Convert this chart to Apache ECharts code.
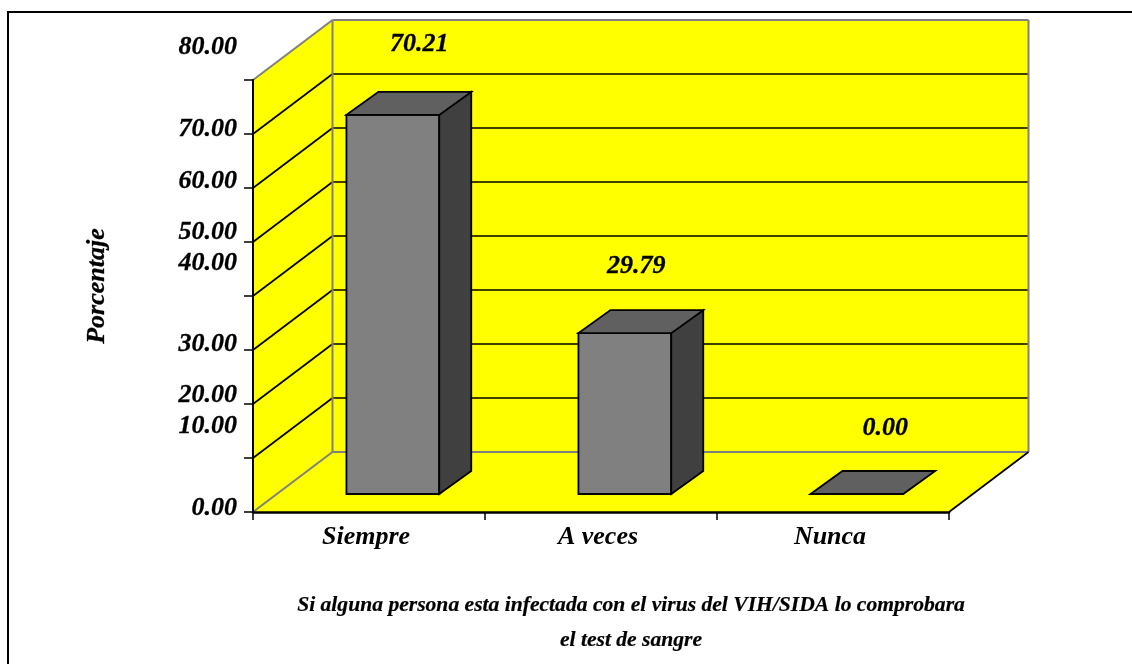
<!DOCTYPE html>
<html><head><meta charset="utf-8">
<style>html,body{margin:0;padding:0;background:#fff}#c{width:1132px;height:664px}</style>
<script src="https://cdn.jsdelivr.net/npm/echarts@6/dist/echarts.min.js"></script>
</head><body><div id="c"></div>
<script>
const categories = ['Siempre', 'A veces', 'Nunca'];
const values = [70.21, 29.79, 0.00];
const yTicks = [0, 10, 20, 30, 40, 50, 60, 70, 80];
const yTickLabelShift = [-4, -32, -9, -6, -33, -10, -7, -5, -33];
const valueLabelShift = [[26.5, -71], [11.5, -67], [28.5, -66]];
const yTitle = 'Porcentaje';
const xTitle = 'Si alguna persona esta infectada con el virus del VIH/SIDA lo comprobara\nel test de sangre';

const FONT = '"Liberation Serif","Times New Roman",serif';
const WALL_DX = 79.5, WALL_DY = -60;
const BAR_WIDTH = 0.4, BAR_FRONT = 0.3, BAR_DX = 32, BAR_DY = -23;
const txt = (x, y, s, size, align, va) => ({
  type: 'text', silent: true, z2: 20,
  style: { x, y, text: s, fill: '#000', stroke: '#000', lineWidth: 0.3, font: `italic bold ${size}px ${FONT}`, align: align, verticalAlign: va || 'middle' }
});
const line = (a, b, color, w) => ({
  type: 'line', silent: true,
  shape: { x1: a[0], y1: a[1], x2: b[0], y2: b[1] },
  style: { stroke: color, lineWidth: w }
});
const poly = (pts, fill, stroke, w) => ({
  type: 'polygon', silent: true,
  shape: { points: pts },
  style: { fill, stroke: stroke || 'none', lineWidth: w || 0, lineJoin: 'miter' }
});

function renderWalls(params, api) {
  const band = api.size([1, 0])[0];
  const left = api.coord([0, 0])[0] - band / 2;
  const right = left + band * categories.length;
  const y = v => api.coord([0, v])[1];
  const back = (x, v) => [x + WALL_DX, y(v) + WALL_DY];
  const els = [];
  els.push(poly([[left, y(0)], [right, y(0)], back(right, 0), back(left, 0)], '#ffff00'));
  els.push(poly([[left, y(0)], back(left, 0), back(left, 80), [left, y(80)]], '#ffff00'));
  els.push(poly([back(left, 0), back(right, 0), back(right, 80), back(left, 80)], '#ffff00'));
  yTicks.slice(1, -1).forEach(v => {
    els.push(line([left, y(v)], back(left, v), '#000', 1.7));
    els.push(line(back(left, v), back(right, v), '#000', 1.5));
  });
  const g = '#808080';
  els.push(line(back(left, 0), back(right, 0), g, 2));
  els.push(line(back(left, 0), back(left, 80), g, 2));
  els.push(line(back(left, 80), back(right, 80), g, 2));
  els.push(line(back(right, 0), back(right, 80), g, 2));
  els.push(line([left, y(80)], back(left, 80), g, 2));
  els.push(line([left, y(0)], back(left, 0), g, 2));
  els.push(line([right, y(0)], back(right, 0), '#000', 1.7));
  yTicks.forEach((v, i) => {
    els.push(txt(237, y(v) + yTickLabelShift[i], v.toFixed(2), 26, 'right'));
  });
  return { type: 'group', children: els };
}

function renderBar(params, api) {
  const i = api.value(0), v = api.value(1);
  const band = api.size([1, 0])[0];
  const c = api.coord([i, 0]);
  const top = api.coord([i, v])[1];
  const w = band * BAR_WIDTH;
  const x0 = c[0] - w / 2 + WALL_DX * BAR_FRONT;
  const x1 = x0 + w;
  const yb = c[1] + WALL_DY * BAR_FRONT;
  const yt = top + WALL_DY * BAR_FRONT;
  const k = '#000', lw = 1.8;
  const els = [];
  if (v > 0) {
    els.push(poly([[x0, yb], [x1, yb], [x1, yt], [x0, yt]], '#808080', k, lw));
    els.push(poly([[x1, yb], [x1 + BAR_DX, yb + BAR_DY], [x1 + BAR_DX, yt + BAR_DY], [x1, yt]], '#404040', k, lw));
  }
  els.push(poly([[x0, yt], [x1, yt], [x1 + BAR_DX, yt + BAR_DY], [x0 + BAR_DX, yt + BAR_DY]], '#606060', k, lw));
  const s = valueLabelShift[params.dataIndex];
  els.push(txt((x0 + x1) / 2 + s[0], yt + s[1], v.toFixed(2), 26, 'center'));
  return { type: 'group', children: els };
}

const chart = echarts.init(document.getElementById('c'), null, { renderer: 'canvas' });
chart.setOption({
  animation: false,
  backgroundColor: '#fff',
  grid: { left: 253, right: 183, top: 80, bottom: 152, containLabel: false },
  xAxis: {
    type: 'category', data: categories, boundaryGap: true, z: 10,
    axisLine: { show: true, onZero: false, lineStyle: { color: '#000', width: 2.5 } },
    axisTick: { show: true, alignWithLabel: false, length: 8, lineStyle: { color: '#000', width: 1.5 } },
    axisLabel: { show: true, margin: 12, interval: 0, color: '#000', fontFamily: FONT, fontStyle: 'italic', fontWeight: 'bold', fontSize: 26, padding: [0, 6, 0, 0] },
    splitLine: { show: false }
  },
  yAxis: {
    type: 'value', min: 0, max: 80, interval: 10, z: 10,
    axisLine: { show: true, lineStyle: { color: '#000', width: 2 } },
    axisTick: { show: true, length: 9, lineStyle: { color: '#000', width: 1.5 } },
    axisLabel: { show: false },
    splitLine: { show: false }
  },
  graphic: [
    { type: 'line', silent: true, shape: { x1: 8, y1: 664, x2: 8, y2: 12 }, style: { stroke: '#000', lineWidth: 2 } },
    { type: 'line', silent: true, shape: { x1: 7, y1: 12, x2: 1132, y2: 12 }, style: { stroke: '#000', lineWidth: 2 } },
    { type: 'text', silent: true, x: 97, y: 286, rotation: Math.PI / 2,
      style: { text: yTitle, fill: '#000', stroke: '#000', lineWidth: 0.3, font: `italic bold 26px ${FONT}`, align: 'center', verticalAlign: 'middle' } },
    { type: 'text', silent: true, x: 631, y: 623,
      style: { text: xTitle, fill: '#000', stroke: '#000', lineWidth: 0.2, font: `italic bold 21.6px ${FONT}`, align: 'center', verticalAlign: 'middle', lineHeight: 35 } }
  ],
  series: [
    { type: 'custom', coordinateSystem: 'cartesian2d', clip: false, z: 1, silent: true,
      renderItem: renderWalls, data: [[0, 0]], encode: { x: 0, y: 1 } },
    { type: 'custom', coordinateSystem: 'cartesian2d', clip: false, z: 2, silent: true,
      renderItem: renderBar, data: values.map((v, i) => [i, v]), encode: { x: 0, y: 1 } }
  ]
});
</script></body></html>
